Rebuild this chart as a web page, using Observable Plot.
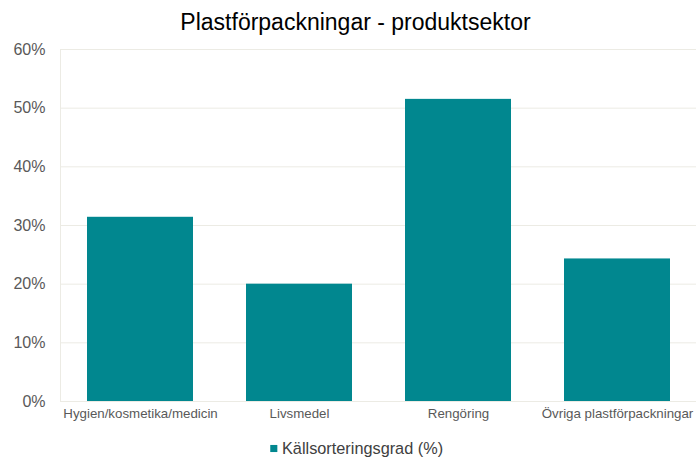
<!DOCTYPE html>
<html>
<head>
<meta charset="utf-8">
<script src="https://cdn.jsdelivr.net/npm/d3@7"></script>
<script src="https://cdn.jsdelivr.net/npm/@observablehq/plot@0.6"></script>
<style>
  html, body { margin: 0; padding: 0; background: #fff; }
  #chart svg { display: block; font-family: "Liberation Sans", Arial, sans-serif; }
</style>
</head>
<body>
<div id="chart"></div>
<script>
const categories = ["Hygien/kosmetika/medicin", "Livsmedel", "Rengöring", "Övriga plastförpackningar"];
const values = [0.314, 0.200, 0.515, 0.243];
const yTicks = [0, 0.1, 0.2, 0.3, 0.4, 0.5, 0.6];
const titleText = "Plastförpackningar - produktsektor";
const seriesName = "Källsorteringsgrad (%)";

const data = categories.map((c, i) => ({category: c, value: values[i]}));
const barColor = "#01878F";
const gridColor = "#ECEBE4";

const chart = Plot.plot({
  width: 696,
  height: 460,
  marginTop: 49,
  marginBottom: 59,
  marginLeft: 60,
  marginRight: 0,
  style: {fontFamily: "Liberation Sans, Arial, sans-serif", background: "#fff"},
  x: {domain: categories, paddingInner: 0.335, paddingOuter: 0.1675, label: null},
  y: {domain: [0, 0.6], label: null},
  marks: [
    Plot.gridY(yTicks, {stroke: gridColor, strokeOpacity: 1, strokeWidth: 1}),
    Plot.frame({anchor: "left", stroke: gridColor, strokeWidth: 1}),
    Plot.axisY(yTicks, {tickSize: 0, tickPadding: 15, tickFormat: d3.format(".0%"), fontSize: 16, fill: "#595959", label: null}),
    Plot.axisX({tickSize: 0, tickPadding: 7, fontSize: 13.3, fill: "#595959", label: null}),
    Plot.barY(data, {x: "category", y: "value", fill: barColor}),
    Plot.text([titleText], {frameAnchor: "top", dy: -27, dx: -23, fontSize: 23, fill: "#000", lineAnchor: "middle"}),
    Plot.dot([seriesName], {frameAnchor: "bottom", dx: -104.7, dy: 47, symbol: "square", r: 4, fill: barColor, stroke: null}),
    Plot.text([seriesName], {frameAnchor: "bottom", dx: -96.5, dy: 47, textAnchor: "start", lineAnchor: "middle", fontSize: 16.3, fill: "#404040"})
  ]
});
document.getElementById("chart").appendChild(chart);
</script>
</body>
</html>
